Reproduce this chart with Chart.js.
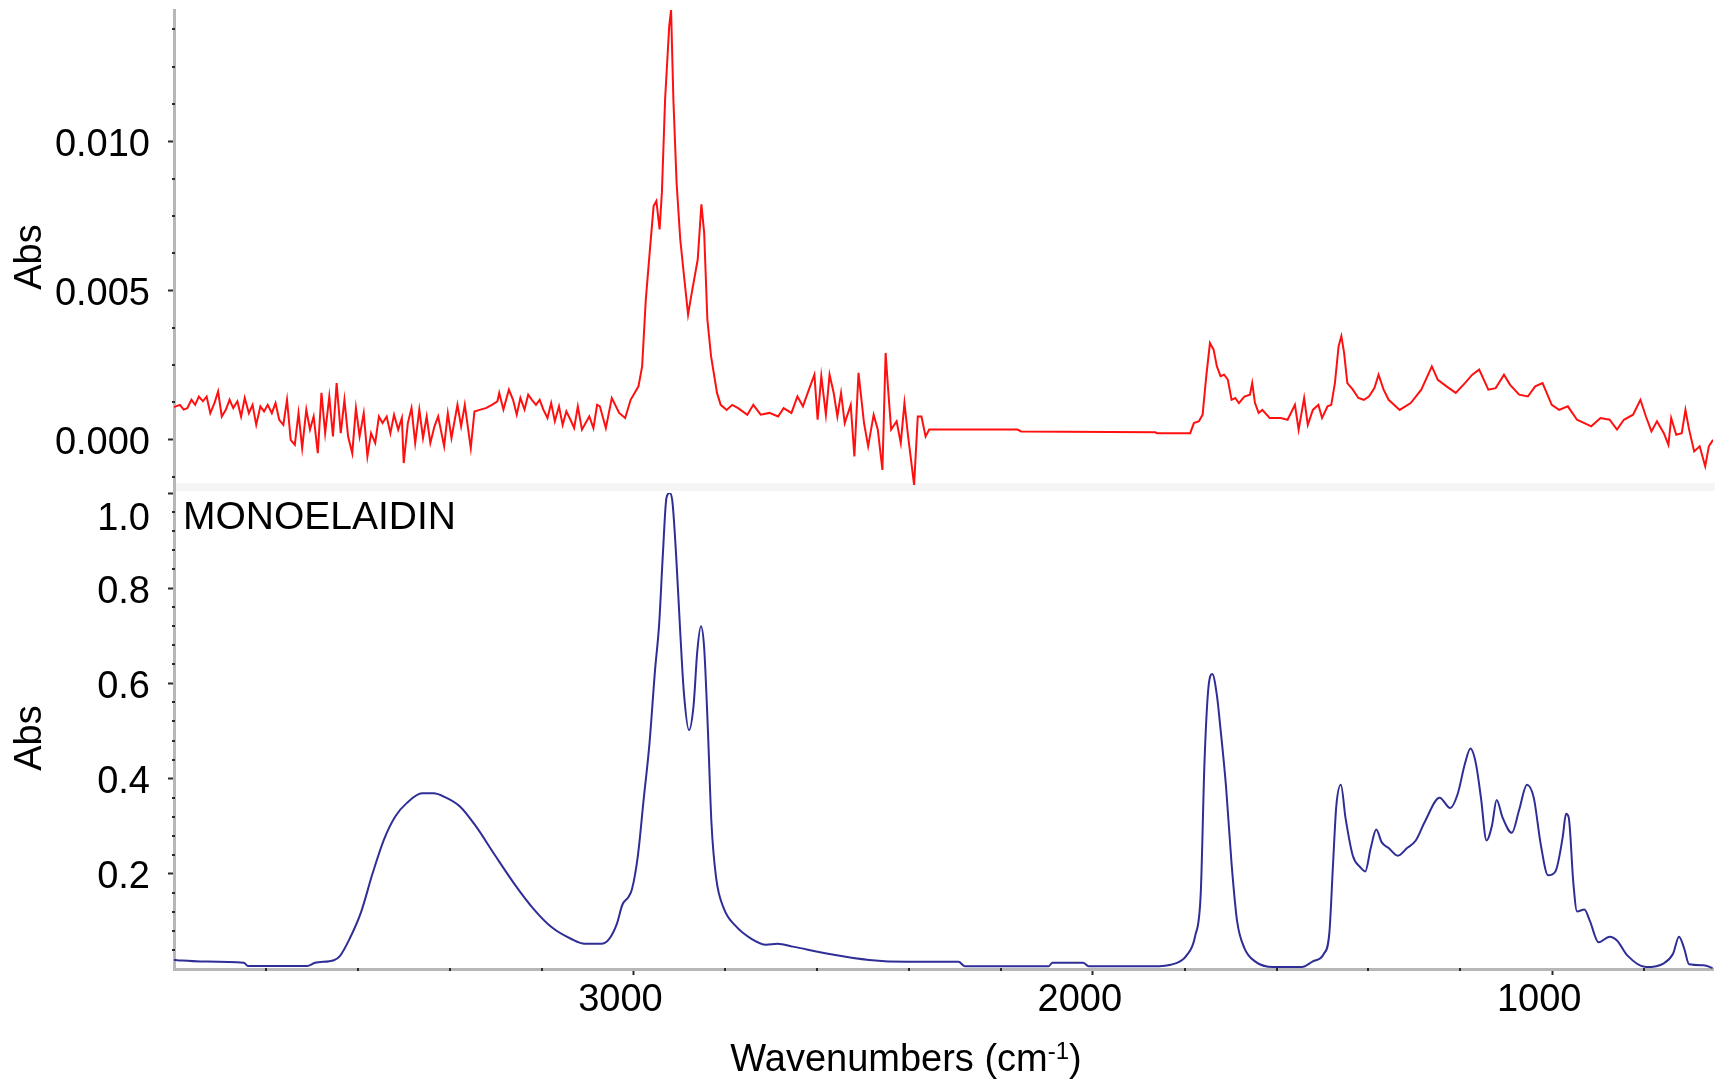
<!DOCTYPE html>
<html>
<head>
<meta charset="utf-8">
<title>Monoelaidin IR spectra</title>
<script src="https://cdn.jsdelivr.net/npm/chart.js@4.4.1/dist/chart.umd.min.js"></script>
<style>
  html, body { margin: 0; padding: 0; background: #ffffff; width: 1717px; height: 1079px; overflow: hidden; }
  #topPanel { position: absolute; left: 0; top: 0; width: 1717px; height: 492px; }
  #bottomPanel { position: absolute; left: 0; top: 492px; width: 1717px; height: 587px; }
  canvas { display: block; }
</style>
</head>
<body>
<div id="topPanel"><canvas id="topChart" width="1717" height="492"></canvas></div>
<div id="bottomPanel"><canvas id="bottomChart" width="1717" height="587"></canvas></div>
<script>
// ---- Upper trace (weak sample spectrum), wavenumber in cm-1 and absorbance ----
const sampleWavenumbers = [
  4000, 3996, 3987, 3979, 3971, 3962, 3954, 3946, 3937, 3929, 3921, 3912, 3904, 3896, 3887, 3879,
  3871, 3862, 3854, 3846, 3837, 3829, 3821, 3812, 3804, 3796, 3787, 3779, 3771, 3762, 3754, 3746,
  3737, 3729, 3721, 3712, 3704, 3696, 3687, 3679, 3671, 3662, 3654, 3646, 3637, 3629, 3621, 3612,
  3604, 3596, 3587, 3579, 3571, 3562, 3554, 3546, 3537, 3529, 3521, 3512, 3504, 3500, 3491, 3483,
  3475, 3466, 3458, 3450, 3442, 3433, 3425, 3412, 3404, 3396, 3383, 3375, 3367, 3354, 3346, 3333,
  3321, 3308, 3296, 3292, 3283, 3271, 3262, 3254, 3246, 3237, 3229, 3221, 3212, 3204, 3196, 3187,
  3179, 3171, 3162, 3154, 3146, 3137, 3129, 3121, 3112, 3104, 3096, 3087, 3079, 3073, 3060, 3047,
  3031, 3018, 3006, 2989, 2981, 2973, 2964, 2956, 2950, 2943, 2938, 2931, 2922, 2918, 2913, 2906,
  2898, 2889, 2881, 2873, 2860, 2852, 2846, 2839, 2831, 2818, 2810, 2797, 2785, 2772, 2752, 2739,
  2723, 2704, 2685, 2673, 2656, 2643, 2631, 2618, 2606, 2599, 2591, 2581, 2573, 2564, 2556, 2548,
  2540, 2527, 2519, 2510, 2498, 2489, 2477, 2468, 2458, 2451, 2446, 2439, 2427, 2418, 2410, 2402,
  2389, 2381, 2373, 2364, 2356, 2164, 2156, 1864, 1860, 1788, 1780, 1769, 1761, 1753, 1745, 1737,
  1730, 1722, 1714, 1706, 1698, 1690, 1682, 1670, 1658, 1653, 1647, 1639, 1631, 1615, 1591, 1576,
  1560, 1552, 1540, 1532, 1521, 1509, 1501, 1489, 1481, 1473, 1465, 1459, 1453, 1446, 1434, 1422,
  1410, 1399, 1387, 1378, 1367, 1356, 1332, 1308, 1285, 1262, 1249, 1230, 1210, 1190, 1174, 1159,
  1139, 1123, 1105, 1092, 1072, 1053, 1037, 1021, 1001, 985, 966, 946, 930, 915, 895, 875,
  859, 844, 824, 808, 796, 784, 772, 757, 747, 741, 730, 718, 710, 702, 691, 679,
  667, 659, 650
];
const sampleAbs = [
  0.00110, 0.00112, 0.00117, 0.00101, 0.00106, 0.00134, 0.00117, 0.00145, 0.00129, 0.00145, 0.00089, 0.00123, 0.00162, 0.00078, 0.00101, 0.00134,
  0.00106, 0.00129, 0.00078, 0.00140, 0.00089, 0.00117, 0.00050, 0.00112, 0.00095, 0.00117, 0.00089, 0.00123, 0.00067, 0.00050, 0.00134, 0.00000,
  -0.00017, 0.00089, -0.00028, 0.00101, 0.00034, 0.00078, -0.00045, 0.00157, 0.00022, 0.00145, 0.00011, 0.00190, 0.00022, 0.00134, 0.00011, -0.00045,
  0.00106, 0.00011, 0.00089, -0.00056, 0.00022, -0.00011, 0.00078, 0.00056, 0.00078, 0.00022, 0.00084, 0.00034, 0.00073, -0.00078, 0.00056, 0.00106,
  -0.00011, 0.00101, 0.00006, 0.00078, -0.00011, 0.00045, 0.00078, -0.00022, 0.00089, 0.00006, 0.00117, 0.00045, 0.00117, -0.00028, 0.00095, 0.00101,
  0.00106, 0.00117, 0.00129, 0.00157, 0.00101, 0.00168, 0.00134, 0.00084, 0.00140, 0.00101, 0.00151, 0.00134, 0.00117, 0.00134, 0.00101, 0.00073,
  0.00123, 0.00062, 0.00112, 0.00050, 0.00095, 0.00067, 0.00039, 0.00112, 0.00034, 0.00056, 0.00078, 0.00039, 0.00117, 0.00112, 0.00039, 0.00140,
  0.00090, 0.00073, 0.00134, 0.00179, 0.00246, 0.00470, 0.00638, 0.00783, 0.00800, 0.00705, 0.00828, 0.01141, 0.01387, 0.01440, 0.01141, 0.00861,
  0.00671, 0.00537, 0.00419, 0.00492, 0.00604, 0.00789, 0.00694, 0.00403, 0.00280, 0.00157, 0.00117, 0.00100, 0.00117, 0.00106, 0.00084, 0.00117,
  0.00084, 0.00090, 0.00078, 0.00106, 0.00090, 0.00145, 0.00112, 0.00168, 0.00218, 0.00067, 0.00213, 0.00084, 0.00218, 0.00157, 0.00078, 0.00157,
  0.00056, 0.00117, -0.00056, 0.00224, 0.00056, -0.00022, 0.00084, 0.00034, -0.00101, 0.00291, 0.00179, 0.00034, 0.00062, -0.00011, 0.00123, 0.00011,
  -0.00151, 0.00078, 0.00078, 0.00011, 0.00034, 0.00034, 0.00028, 0.00025, 0.00022, 0.00022, 0.00056, 0.00062, 0.00084, 0.00213, 0.00324, 0.00302,
  0.00246, 0.00213, 0.00218, 0.00201, 0.00134, 0.00140, 0.00123, 0.00145, 0.00151, 0.00190, 0.00123, 0.00090, 0.00100, 0.00073, 0.00073, 0.00067,
  0.00117, 0.00034, 0.00140, 0.00050, 0.00100, 0.00117, 0.00073, 0.00112, 0.00117, 0.00190, 0.00313, 0.00347, 0.00291, 0.00190, 0.00168, 0.00140,
  0.00134, 0.00145, 0.00173, 0.00218, 0.00168, 0.00134, 0.00100, 0.00123, 0.00168, 0.00246, 0.00201, 0.00179, 0.00157, 0.00190, 0.00218, 0.00235,
  0.00168, 0.00173, 0.00218, 0.00185, 0.00151, 0.00145, 0.00179, 0.00190, 0.00117, 0.00100, 0.00112, 0.00067, 0.00056, 0.00045, 0.00073, 0.00067,
  0.00034, 0.00067, 0.00084, 0.00134, 0.00078, 0.00028, 0.00062, 0.00022, -0.00017, 0.00073, 0.00017, 0.00022, 0.00100, 0.00034, -0.00039, -0.00022,
  -0.00089, -0.00022, 0.00000
];

// ---- Lower trace (MONOELAIDIN reference spectrum) ----
const referenceWavenumbers = [
  4000, 3993, 3943, 3848, 3839, 3710, 3693, 3652, 3639, 3618, 3593, 3568, 3543, 3518, 3493, 3460,
  3435, 3410, 3377, 3343, 3302, 3260, 3218, 3177, 3135, 3106, 3070, 3053, 3036, 3024, 3011, 3003,
  2990, 2978, 2965, 2953, 2944, 2936, 2928, 2921, 2915, 2907, 2898, 2890, 2879, 2869, 2861, 2853,
  2846, 2838, 2830, 2820, 2803, 2778, 2744, 2711, 2686, 2653, 2570, 2487, 2404, 2292, 2279, 2096,
  2088, 2021, 2009, 1855, 1830, 1810, 1797, 1777, 1765, 1757, 1749, 1740, 1730, 1722, 1710, 1698,
  1686, 1670, 1647, 1607, 1545, 1521, 1497, 1485, 1477, 1470, 1460, 1450, 1434, 1418, 1407, 1395,
  1383, 1371, 1356, 1336, 1316, 1297, 1277, 1245, 1222, 1206, 1190, 1178, 1166, 1155, 1143, 1131,
  1121, 1108, 1088, 1072, 1055, 1040, 1025, 1009, 993, 977, 970, 964, 954, 946, 930, 918,
  899, 875, 859, 836, 796, 757, 737, 724, 713, 702, 670, 651
];
const referenceAbs = [
  0.019, 0.0185, 0.016, 0.013, 0.0064, 0.0064, 0.013, 0.0185, 0.027, 0.063, 0.119, 0.200, 0.272, 0.321, 0.349, 0.369,
  0.369, 0.361, 0.341, 0.300, 0.240, 0.180, 0.127, 0.087, 0.063, 0.053, 0.053, 0.063, 0.095, 0.135, 0.151, 0.168,
  0.240, 0.353, 0.474, 0.627, 0.724, 0.869, 0.990, 1.000, 0.981, 0.869, 0.707, 0.579, 0.502, 0.554, 0.667, 0.720,
  0.675, 0.506, 0.305, 0.192, 0.127, 0.091, 0.064, 0.051, 0.053, 0.047, 0.031, 0.019, 0.015, 0.015, 0.006, 0.006,
  0.013, 0.013, 0.006, 0.006, 0.009, 0.016, 0.027, 0.070, 0.160, 0.431, 0.584, 0.620, 0.576, 0.504, 0.383, 0.222,
  0.101, 0.044, 0.016, 0.004, 0.004, 0.016, 0.032, 0.077, 0.222, 0.342, 0.387, 0.318, 0.238, 0.214, 0.205, 0.254,
  0.293, 0.266, 0.254, 0.238, 0.254, 0.270, 0.310, 0.360, 0.338, 0.367, 0.431, 0.463, 0.431, 0.359, 0.270, 0.302,
  0.355, 0.318, 0.286, 0.334, 0.387, 0.359, 0.262, 0.197, 0.205, 0.278, 0.326, 0.318, 0.181, 0.121, 0.125, 0.101,
  0.056, 0.068, 0.060, 0.028, 0.004, 0.012, 0.032, 0.068, 0.044, 0.010, 0.008, 0.002
];

// ---- Axis ticks and labels ----
const xMajorTicks = [3000, 2000, 1000];
const xTickLabels = ['3000', '2000', '1000'];
const xMinorTicks = [3800, 3600, 3400, 3200, 2800, 2600, 2400, 2200, 1800, 1600, 1400, 1200, 800];
const topMajorTicks = [0, 0.005, 0.010];
const topTickLabels = ['0.000', '0.005', '0.010'];
const topMinorTicks = [-0.00125, 0.00125, 0.0025, 0.00375, 0.00625, 0.0075, 0.00875, 0.01125, 0.0125, 0.01375];
const bottomMajorTicks = [0.2, 0.4, 0.6, 0.8, 1.0];
const bottomTickLabels = ['0.2', '0.4', '0.6', '0.8', '1.0'];
const bottomMinorTicks = [0.04, 0.08, 0.12, 0.16, 0.24, 0.28, 0.32, 0.36, 0.44, 0.48, 0.52, 0.56,
                          0.64, 0.68, 0.72, 0.76, 0.84, 0.88, 0.92, 0.96];
const sampleName = 'MONOELAIDIN';
const yTitle = 'Abs';

const FONT_FAMILY = '"Liberation Sans", Arial, Helvetica, sans-serif';
const AXIS_GREY = '#b7b7b7';
const TICK_DARK = '#2a2a2a';

const toPoints = (xs, ys) => xs.map((x, i) => ({ x: x, y: ys[i] }));

// Keep each scale at a fixed thickness and stop it from reserving room for edge labels
const fixScaleBox = (size) => (scale) => {
  if (scale.isHorizontal()) { scale.height = size; } else { scale.width = size; }
  scale.paddingTop = 0; scale.paddingBottom = 0;
  scale.paddingLeft = 0; scale.paddingRight = 0;
};

// Small dark marks sitting on the axis lines between the labelled ticks
const minorTickPlugin = {
  id: 'minorTicks',
  afterDraw(chart, args, opts) {
    const ctx = chart.ctx;
    ctx.save();
    ctx.fillStyle = TICK_DARK;
    const ys = chart.scales.y;
    (opts.y || []).forEach(v => {
      const py = Math.round(ys.getPixelForValue(v));
      ctx.fillRect(ys.right - 2, py - 1, 3, 2);
    });
    if (opts.x && chart.scales.x.options.display) {
      const xs = chart.scales.x;
      opts.x.forEach(v => {
        const px = Math.round(xs.getPixelForValue(v));
        ctx.fillRect(px - 1, xs.top - 1, 2, 3);
      });
    }
    ctx.restore();
  }
};

// Faint band along the lower edge of the upper panel
const panelEdgePlugin = {
  id: 'panelEdge',
  beforeDatasetsDraw(chart, args, opts) {
    if (!opts.color) return;
    const a = chart.chartArea;
    const ctx = chart.ctx;
    ctx.save();
    ctx.fillStyle = opts.color;
    ctx.fillRect(a.left + 2, a.bottom - opts.height - 1, a.right - a.left, opts.height);
    ctx.restore();
  }
};

// Free text: rotated axis captions, sample name and the axis title with superscript
const captionPlugin = {
  id: 'captions',
  afterDraw(chart, args, opts) {
    const ctx = chart.ctx;
    (opts.items || []).forEach(it => {
      ctx.save();
      ctx.fillStyle = '#000000';
      ctx.translate(it.x, it.y);
      ctx.rotate(it.rotation || 0);
      if (it.parts) {
        ctx.textBaseline = 'alphabetic';
        ctx.textAlign = 'left';
        let total = 0;
        it.parts.forEach(p => { ctx.font = p.size + 'px ' + FONT_FAMILY; p.w = ctx.measureText(p.text).width; total += p.w; });
        let cx = -total / 2;
        it.parts.forEach(p => {
          ctx.font = p.size + 'px ' + FONT_FAMILY;
          ctx.fillText(p.text, cx, -(p.rise || 0));
          cx += p.w;
        });
      } else {
        ctx.font = it.size + 'px ' + FONT_FAMILY;
        ctx.textAlign = it.align || 'center';
        ctx.textBaseline = 'middle';
        ctx.fillText(it.text, 0, 0);
      }
      ctx.restore();
    });
  }
};

const commonY = (majors, labels, extra) => Object.assign({
  type: 'linear',
  position: 'left',
  afterFit: fixScaleBox(174),
  afterBuildTicks: (scale) => { scale.ticks = majors.map(v => ({ value: v })); },
  grid: { display: true, drawOnChartArea: false, drawTicks: true, tickLength: 6, tickColor: TICK_DARK, tickWidth: 2 },
  border: { display: true, color: AXIS_GREY, width: 3 },
  ticks: {
    autoSkip: false,
    padding: 18,
    labelOffset: 4,
    color: '#000000',
    font: { family: FONT_FAMILY, size: 38 },
    callback: (value) => {
      const i = majors.indexOf(value);
      if (i < 0) return '';
      // the topmost label sits under the panel edge, one line lower
      return (majors === bottomMajorTicks && i === majors.length - 1) ? ['', labels[i]] : labels[i];
    }
  }
}, extra);

const xRange = { type: 'linear', min: 650, max: 4000, reverse: true };

// Upper panel
new Chart(document.getElementById('topChart'), {
  type: 'line',
  data: {
    datasets: [{
      label: 'sample',
      data: toPoints(sampleWavenumbers, sampleAbs),
      borderColor: '#ff1010',
      borderWidth: 2,
      pointRadius: 0,
      tension: 0,
      fill: false
    }]
  },
  options: {
    responsive: false,
    animation: false,
    events: [],
    layout: { padding: { top: 10, right: 4, bottom: 0, left: 0 } },
    scales: {
      x: Object.assign({ display: false }, xRange),
      y: commonY(topMajorTicks, topTickLabels, { min: -0.00175, max: 0.0144 })
    },
    plugins: {
      legend: { display: false },
      tooltip: { enabled: false },
      minorTicks: { y: topMinorTicks },
      panelEdge: { color: '#f5f5f5', height: 8 },
      captions: { items: [ { text: yTitle, x: 31, y: 257, size: 38, rotation: -Math.PI / 2 } ] }
    }
  },
  plugins: [panelEdgePlugin, minorTickPlugin, captionPlugin]
});

// Lower panel
new Chart(document.getElementById('bottomChart'), {
  type: 'line',
  data: {
    datasets: [{
      label: sampleName,
      data: toPoints(referenceWavenumbers, referenceAbs),
      borderColor: '#2e2e96',
      borderWidth: 2,
      pointRadius: 0,
      cubicInterpolationMode: 'monotone',
      fill: false
    }]
  },
  options: {
    responsive: false,
    animation: false,
    events: [],
    layout: { padding: { top: 1, right: 4, bottom: 0, left: 0 } },
    scales: {
      x: Object.assign({
        display: true,
        position: 'bottom',
        afterFit: fixScaleBox(110),
        afterBuildTicks: (scale) => { scale.ticks = xMajorTicks.map(v => ({ value: v })); },
        grid: { display: true, drawOnChartArea: false, drawTicks: true, tickLength: 6, tickColor: TICK_DARK, tickWidth: 2 },
        border: { display: true, color: AXIS_GREY, width: 3 },
        ticks: {
          autoSkip: false,
          maxRotation: 0,
          padding: 3,
          labelOffset: -13,
          color: '#000000',
          font: { family: FONT_FAMILY, size: 38 },
          callback: (value) => { const i = xMajorTicks.indexOf(value); return i < 0 ? '' : xTickLabels[i]; }
        }
      }, xRange),
      y: commonY(bottomMajorTicks, bottomTickLabels, { min: 0, max: 1.0 })
    },
    plugins: {
      legend: { display: false },
      tooltip: { enabled: false },
      minorTicks: { y: bottomMinorTicks, x: xMinorTicks },
      captions: {
        items: [
          { text: yTitle, x: 31, y: 246, size: 38, rotation: -Math.PI / 2 },
          { text: sampleName, x: 183, y: 26, size: 39, align: 'left' },
          { x: 906, y: 579, parts: [
              { text: 'Wavenumbers (cm', size: 38 },
              { text: '-1', size: 24, rise: 12 },
              { text: ')', size: 38 }
          ] }
        ]
      }
    }
  },
  plugins: [minorTickPlugin, captionPlugin]
});
</script>
</body>
</html>
